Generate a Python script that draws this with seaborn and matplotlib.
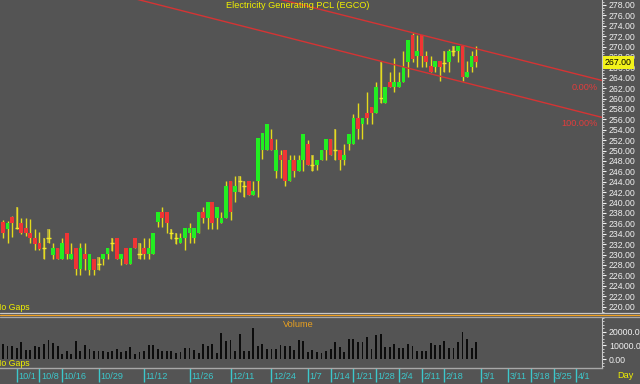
import numpy as np
import pandas as pd
import matplotlib
matplotlib.use("Agg")
import matplotlib.pyplot as plt
import matplotlib.transforms as mtransforms
from matplotlib.lines import Line2D
import seaborn as sns

# ---------------- data ----------------
opens = [236.3, 235.0, 237.2, 235.2, 236.1, 235.2, 234.2, 233.1, 232.2, 231.3,
         233.2, 230.0, 231.2, 229.1, 234.2, 229.1, 231.2, 227.2, 230.1, 227.0,
         229.1, 228.2, 229.1, 230.1, 232.3, 233.2, 229.1, 231.2, 228.1, 233.2,
         230.2, 231.2, 230.1, 230.1, 236.2, 238.2, 238.1, 234.2, 233.2, 232.2,
         233.1, 234.1, 233.1, 234.1, 238.1, 237.1, 240.2, 237.1, 236.1, 237.1,
         244.2, 242.1, 244.3, 243.3, 244.2, 241.5, 244.2, 250.1, 250.1, 252.2,
         246.1, 249.2, 250.2, 244.2, 248.2, 246.1, 248.2, 251.3, 247.3, 247.2,
         248.2, 250.1, 252.2, 250.3, 250.2, 248.2, 251.2, 251.2, 256.2, 255.2,
         257.2, 258.3, 257.2, 260.3, 259.1, 263.1, 262.2, 262.2, 263.1, 267.1,
         272.2, 268.1, 272.2, 268.2, 266.3, 266.1, 267.2, 266.9, 267.1, 269.3,
         269.2, 270.2, 264.2, 266.1, 268.2]
highs = [236.6, 236.4, 237.4, 239.1, 237.1, 237.1, 236.9, 235.0, 234.4, 233.2,
         235.0, 232.2, 231.2, 233.1, 234.2, 232.2, 231.2, 232.2, 232.2, 230.1,
         229.1, 229.5, 230.1, 231.2, 233.2, 233.2, 230.1, 231.2, 231.2, 233.2,
         232.2, 233.2, 233.2, 234.2, 238.2, 239.2, 238.1, 235.0, 234.1, 234.1,
         235.2, 236.1, 235.2, 238.1, 239.1, 240.2, 240.2, 239.1, 238.1, 244.1,
         244.2, 245.1, 245.1, 244.2, 244.2, 244.2, 252.4, 253.3, 255.2, 254.2,
         252.2, 250.2, 250.2, 249.2, 249.2, 249.2, 253.2, 252.0, 249.2, 248.2,
         250.2, 252.2, 252.2, 254.2, 250.2, 251.3, 253.2, 257.1, 259.2, 256.2,
         261.2, 258.3, 263.1, 267.1, 262.2, 265.1, 267.9, 265.1, 269.2, 271.3,
         272.6, 272.2, 272.2, 269.2, 268.2, 267.2, 267.2, 269.2, 269.6, 270.2,
         270.2, 270.2, 267.2, 269.2, 270.2]
lows = [233.2, 232.2, 233.3, 234.9, 233.9, 233.6, 232.2, 230.9, 230.8, 229.1,
        232.2, 229.1, 229.1, 229.1, 229.1, 229.1, 226.1, 226.1, 227.0, 226.1,
        226.1, 227.0, 228.0, 229.1, 230.6, 229.1, 228.0, 228.1, 228.1, 231.2,
        229.1, 229.1, 229.1, 230.1, 235.3, 235.3, 234.1, 233.0, 232.1, 232.2,
        230.9, 232.2, 232.2, 234.1, 236.1, 235.0, 235.0, 235.0, 236.1, 237.1,
        236.6, 240.1, 242.1, 241.1, 241.5, 241.5, 241.1, 248.4, 250.1, 250.1,
        244.8, 244.8, 243.2, 244.2, 245.0, 246.1, 246.1, 247.2, 246.1, 246.3,
        248.2, 248.2, 249.2, 248.2, 246.2, 247.2, 250.2, 251.2, 252.2, 252.2,
        255.2, 255.2, 257.2, 259.2, 259.1, 262.2, 261.2, 262.2, 263.1, 264.2,
        267.1, 266.1, 266.1, 266.1, 265.2, 265.2, 263.3, 265.2, 265.2, 268.1,
        267.1, 263.3, 264.2, 265.2, 266.1]
closes = [234.2, 236.1, 236.1, 235.1, 234.1, 234.2, 233.1, 232.0, 231.1, 231.2,
          233.1, 231.2, 229.1, 232.2, 230.2, 230.1, 227.2, 231.2, 229.1, 230.1,
          227.0, 228.1, 230.1, 231.2, 232.2, 229.1, 230.1, 228.1, 231.2, 231.2,
          230.1, 230.1, 231.2, 234.2, 238.2, 237.1, 236.0, 234.1, 233.1, 233.1,
          235.2, 235.2, 235.2, 238.1, 237.1, 240.2, 236.1, 239.1, 237.1, 243.2,
          238.1, 243.2, 244.2, 243.2, 241.5, 242.2, 252.4, 253.3, 255.2, 250.1,
          250.2, 248.2, 244.2, 248.2, 246.1, 248.2, 253.2, 247.2, 247.2, 248.2,
          250.2, 252.2, 249.2, 250.2, 248.2, 249.2, 253.2, 256.2, 254.2, 256.2,
          256.2, 257.2, 262.2, 260.2, 262.2, 262.2, 263.1, 263.1, 266.1, 271.3,
          267.6, 269.2, 268.1, 267.1, 265.2, 267.2, 266.1, 266.8, 269.2, 269.2,
          270.2, 264.2, 265.2, 268.2, 267.0]
volumes = [11000, 9300, 9800, 7800, 12200, 6800, 6800, 9800, 8500, 11000,
           13900, 11700, 9300, 3900, 5600, 3900, 12900, 6300, 10000, 7300,
           6100, 6100, 6100, 4900, 6300, 7300, 4900, 6100, 8500, 4100,
           5400, 6100, 10000, 10000, 7300, 5600, 5600, 5600, 4400, 4900,
           7800, 7800, 6800, 4400, 11000, 9300, 11200, 4400, 19000, 12900,
           13700, 6300, 18300, 5600, 5600, 22700, 9300, 11200, 7300, 7300,
           7300, 10000, 9300, 9300, 6800, 13700, 12900, 5100, 6800, 5000,
           4400, 5600, 7300, 12400, 8800, 4900, 14900, 14900, 12200, 12200,
           15900, 7300, 17800, 18500, 8800, 8500, 11200, 7800, 7800, 10700,
           9800, 6100, 6100, 6100, 11700, 10500, 10000, 12900, 7800, 7800,
           12400, 19500, 14900, 8000, 12200]
date_labels = ["10/1", "10/8", "10/16", "10/29", "11/12", "11/26", "12/11", "12/24",
               "1/7", "1/14", "1/21", "1/28", "2/4", "2/11", "2/18", "3/1", "3/11",
               "3/18", "3/25", "4/1"]
date_index = [3, 8, 13, 21, 31, 41, 50, 59, 67, 72, 77, 82, 87, 92, 97, 105, 111,
              116, 121, 126]
price_ticks = list(range(220, 279, 2))
volume_ticks = [0, 10000, 20000]
upper_channel_x = [55, 131.6]
upper_channel_y = [280.4, 263.5]
lower_channel_x = [20, 131.6]
lower_channel_y = [281.2, 256.4]
channel_labels = ["0.00%", "100.00%"]
channel_label_y = [262.2, 255.3]

# ---------------- style ----------------
BG = "#545454"
sns.set_theme(style="dark", rc={"axes.facecolor": BG, "figure.facecolor": BG,
                                 "savefig.facecolor": BG})
plt.rcParams["font.family"] = ["Liberation Sans", "DejaVu Sans"]

W, H = 640, 384
fig = plt.figure(figsize=(6.4, 3.84), dpi=100)


def px_rect(x0, y0, x1, y1):
    return [x0 / W, 1 - y1 / H, (x1 - x0) / W, (y1 - y0) / H]


ax = fig.add_axes(px_rect(0, 0, 602, 312))
axv = fig.add_axes(px_rect(0, 317.5, 602, 368))

o = np.array(opens); h = np.array(highs); l = np.array(lows); c = np.array(closes)
idx = np.arange(len(c))
doji = np.abs(c - o) < 0.15
up = (c > o) & ~doji
down = (c < o) & ~doji

XL = (-3 / 4.55, 599 / 4.55)

# candles
ax.bar(idx[doji], (h - l)[doji], bottom=l[doji], width=0.5, color="#a39d4a",
       linewidth=0, edgecolor="none", zorder=1.5)
ax.vlines(idx, l, h, color="#e4da1c", lw=1.0, zorder=2)
ax.hlines(c[doji], idx[doji] - 0.45, idx[doji] + 0.45, color="#f2ea2a", lw=1.0, zorder=2.5)
ax.bar(idx[up], (c - o)[up], bottom=o[up], width=0.8, color="#22ee22", zorder=3,
       linewidth=0, edgecolor="none")
ax.bar(idx[down], (o - c)[down], bottom=c[down], width=0.8, color="#f03434", zorder=3,
       linewidth=0, edgecolor="none")

# channel lines
sns.lineplot(x=upper_channel_x, y=upper_channel_y, ax=ax, color="#d43434", lw=1.0, zorder=4)
sns.lineplot(x=lower_channel_x, y=lower_channel_y, ax=ax, color="#d43434", lw=1.0, zorder=4)
for lab, yy in zip(channel_labels, channel_label_y):
    ax.text(130.8, yy, lab, ha="right", va="center", color="#e23c3c", fontsize=6.6, zorder=5)

ax.set_xlim(*XL)
ax.set_ylim(278 - 307 / 5.2, 278 + 5 / 5.2)
ax.set_xlabel(""); ax.set_ylabel("")
ax.set_xticks([])
ax.yaxis.tick_right()
ax.set_yticks(price_ticks)
ax.set_yticklabels([f"{v:.2f}" for v in price_ticks])
ax.set_yticks(np.arange(219, 279, 0.5), minor=True)
ax.tick_params(axis="y", which="major", right=True, colors="#f0f0f0", labelsize=6.3,
               length=3, width=0.8, pad=2, labelcolor="#f0f0f0")
ax.tick_params(axis="y", which="minor", right=True, length=1.5, width=0.6, colors="#dddddd")
for s in ["top", "left", "bottom"]:
    ax.spines[s].set_visible(False)
ax.spines["right"].set_color("#c8c8c8")
ax.spines["right"].set_linewidth(0.8)

ax.text(0.495, 1 - 0.5 / 312, "Electricity Generating PCL (EGCO)", transform=ax.transAxes,
        ha="center", va="top", color="#f0f000", fontsize=6.6, zorder=6)
ax.text(-5 / 602, 4 / 312, "No Gaps", transform=ax.transAxes, ha="left", va="center",
        color="#f0f000", fontsize=6.3, clip_on=False)

trans = mtransforms.blended_transform_factory(ax.transAxes, ax.transData)
ax.text(1.0 + 3 / 602, c[-1], f"{c[-1]:.2f}", transform=trans, ha="left", va="center",
        fontsize=6.3, color="black", clip_on=False, zorder=10,
        bbox=dict(boxstyle="square,pad=0.25", fc="#f2f21a", ec="none"))

# volume
sns.barplot(x=idx, y=volumes, native_scale=True, width=0.4, color="#0c0c0c",
            saturation=1, linewidth=0, edgecolor="none", ax=axv)
axv.set_xlim(*XL)
axv.set_ylim(-6370, 30250)
axv.set_xlabel(""); axv.set_ylabel("")
axv.yaxis.tick_right()
axv.set_yticks(volume_ticks)
axv.set_yticklabels([f"{v:.2f}" for v in volume_ticks])
axv.set_yticks(np.arange(-5000, 30001, 2500), minor=True)
axv.tick_params(axis="y", which="major", right=True, colors="#f0f0f0", labelsize=6.3,
                length=3, width=0.8, pad=2)
axv.tick_params(axis="y", which="minor", right=True, length=1.5, width=0.6, colors="#dddddd")
axv.set_xticks(date_index)
axv.set_xticklabels([])
axv.tick_params(axis="x", bottom=True, length=10, width=1.0, color="#3cc8cc", direction="out")
for s in ["top", "left"]:
    axv.spines[s].set_visible(False)
axv.spines["right"].set_color("#c8c8c8"); axv.spines["right"].set_linewidth(0.8)
axv.spines["bottom"].set_color("#a8a8a8"); axv.spines["bottom"].set_linewidth(1.0)
xtr = mtransforms.blended_transform_factory(axv.transData, axv.transAxes)
for pos, lab in zip(date_index, date_labels):
    axv.text(pos + 0.35, -0.165, lab, transform=xtr, ha="left", va="center",
             color="#3cc8cc", fontsize=6.6, clip_on=False)
axv.text(0.495, 0.86, "Volume", transform=axv.transAxes, ha="center", va="center",
         color="#e8a020", fontsize=6.6)
axv.text(-5 / 602, 0.08, "No Gaps", transform=axv.transAxes, ha="left", va="center",
         color="#f0f000", fontsize=6.3, clip_on=False)
fig.text(625 / W, 1 - 376 / H, "Day", ha="center", va="center", color="#f0f000", fontsize=6.6)

# separators between panels
for ypx, col in [(313.3, "#c8c8c8"), (315.0, "#f0a020"), (316.7, "#a8a8a8")]:
    fig.add_artist(Line2D([0, 1], [1 - ypx / H, 1 - ypx / H], transform=fig.transFigure,
                          color=col, lw=0.9))

fig.savefig("out.png", dpi=100)
